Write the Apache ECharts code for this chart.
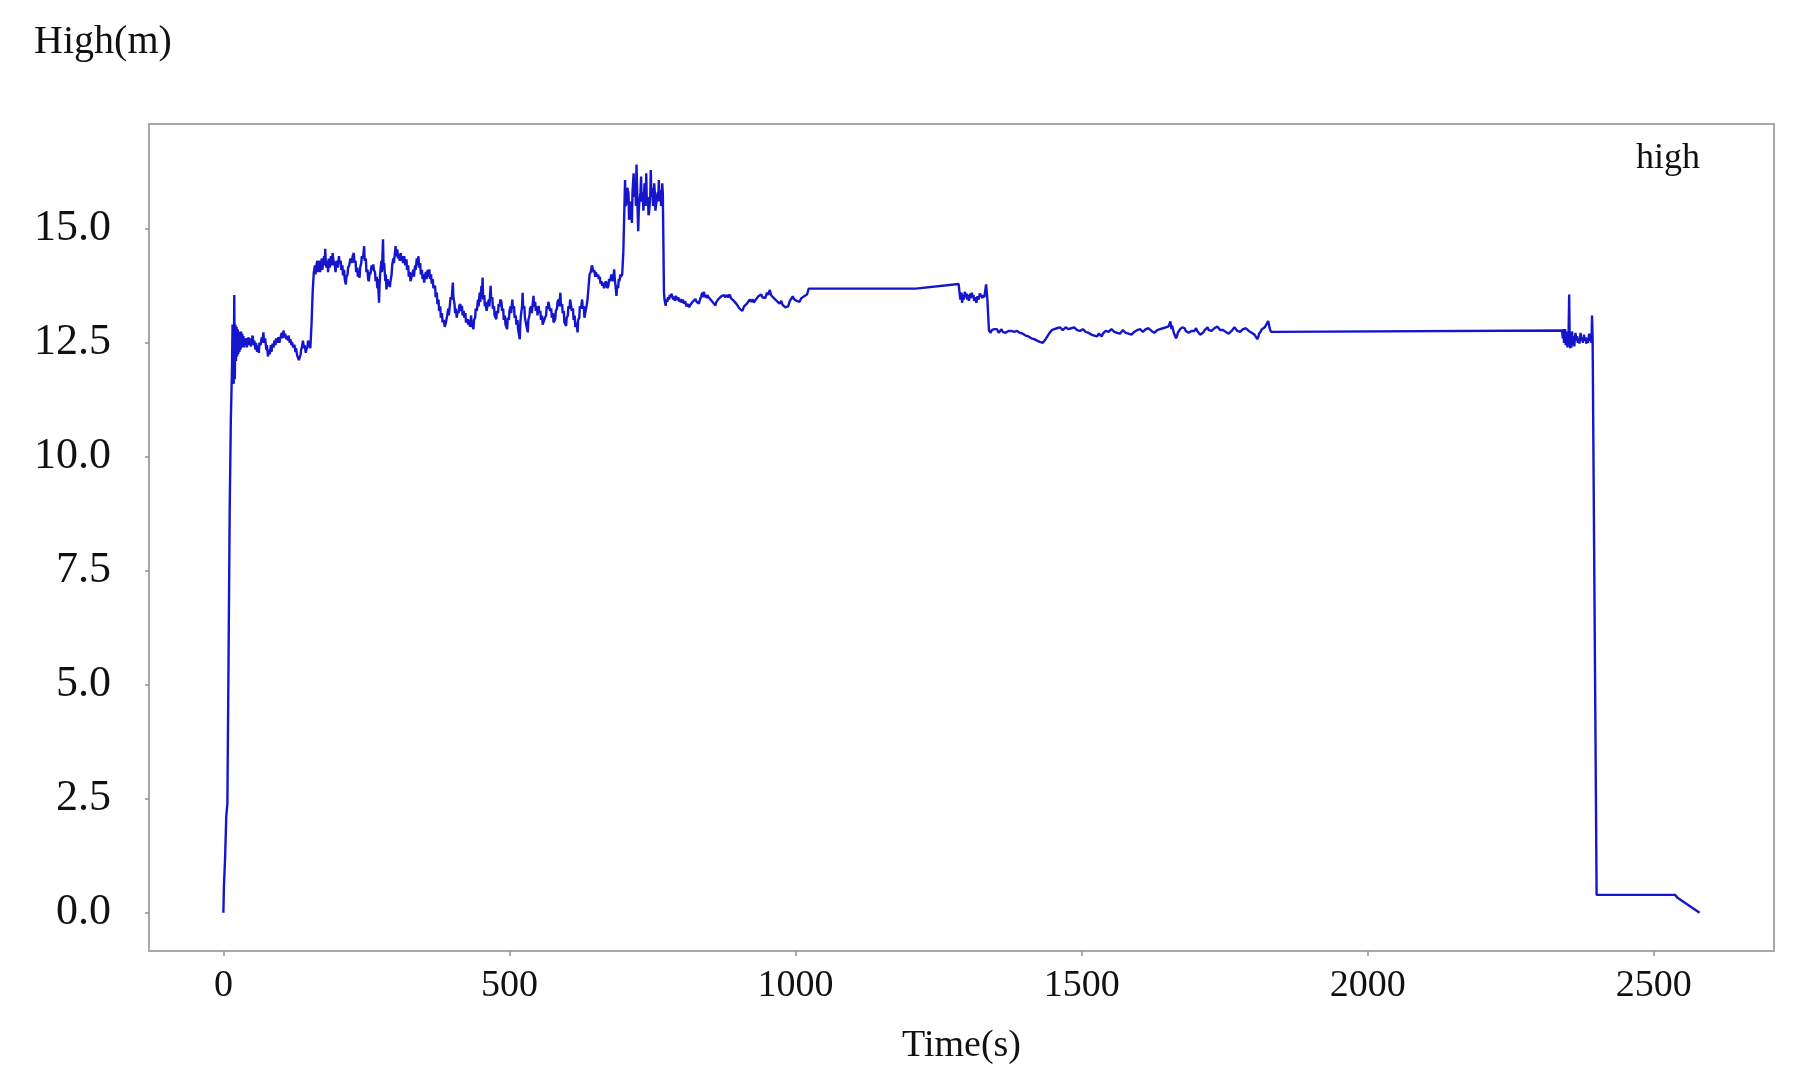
<!DOCTYPE html>
<html>
<head>
<meta charset="utf-8">
<title>High(m)</title>
<script src="https://cdn.jsdelivr.net/npm/echarts@6/dist/echarts.min.js"></script>
<style>
  html, body { margin: 0; padding: 0; background: #fff; }
  #main { width: 1797px; height: 1089px; }
</style>
</head>
<body>
<div id="main"></div>
<script>
// 高度-时间曲线，[时间 s, 高度 m]
var takeoff = [[0,0],[1,0.6],[3,1.2],[5,2.1],[7,2.4],[9,5.5],[11,8.8],[13,10.8],[15,11.9],[16,12.9],[17,12.3],[18,11.6],[19,13.55],[20,11.7],[21,12.9],[22,12.1]];

var hoverLow = [[23,12.85],[24,12.2],[25,12.8],[26,12.25],[27,12.75],[28,12.3],[29,12.7],[30,12.35],[31,12.75],[32,12.4],[33,12.7],[34,12.45],[35,12.65],[36,12.4],[37,12.6],[38,12.45],[40,12.6],[41,12.4],[42,12.52],[44,12.62],[45,12.45],[47,12.6],[48,12.42],[50,12.58],[51,12.66],[53,12.45],[54,12.55],[56,12.35],[57,12.5],[59,12.3],[60,12.44],[62,12.28],[63,12.5],[65,12.45],[67,12.62],[68,12.5],[70,12.73],[71,12.5],[73,12.6],[75,12.35],[76,12.45],[78,12.2],[79,12.35],[81,12.25],[83,12.45],[84,12.3],[86,12.48],[88,12.4],[89,12.55],[91,12.45],[92,12.6],[94,12.5],[96,12.62],[98,12.5],[99,12.58],[101,12.55],[102,12.72],[104,12.6],[105,12.77],[107,12.62],[108,12.7],[110,12.58],[111,12.65],[113,12.55],[114,12.66],[116,12.5],[117,12.58],[119,12.45],[120,12.52],[122,12.4],[124,12.46],[126,12.3],[127,12.38],[129,12.22],[130,12.25],[132,12.12],[133,12.15],[135,12.25],[136,12.35],[138,12.45],[139,12.55],[141,12.38],[142,12.45],[144,12.28],[145,12.35],[147,12.42],[148,12.55],[150,12.4],[151,12.52],[152,12.38]];

var hoverHigh = [[154,12.9],[156,13.6],[158,14.04],[160,14.2],[161,14.0],[162,14.15],[164,14.3],[165,14.05],[166,14.2],[168,14.3],[169,14.05],[170,14.15],[172,14.35],[173,14.1],[174,14.25],[176,14.4],[177,14.2],[178,14.56],[179,14.25],[180,14.15],[182,14.3],[183,14.05],[184,14.35],[186,14.15],[187,14.3],[188,14.4],[190,14.2],[191,14.47],[193,14.2],[194,14.3],[196,14.05],[197,14.2],[199,14.3],[200,14.15],[202,14.4],[203,14.25],[205,14.3],[206,14.1],[208,14.2],[209,13.98],[211,14.1],[212,13.9],[214,13.78],[215,13.95],[217,14.0],[218,14.15],[220,14.2],[222,14.35],[224,14.25],[226,14.4],[228,14.47],[229,14.25],[231,14.3],[232,14.05],[234,14.15],[235,13.95],[236,14.05],[238,13.93],[239,14.15],[241,14.25],[242,14.4],[244,14.35],[246,14.62],[247,14.3],[249,14.35],[250,14.05],[252,14.1],[253,13.9],[254,13.85],[256,14.05],[257,14.0],[259,14.2],[260,14.1],[262,14.22],[263,14.1],[265,14.05],[266,13.85],[268,13.95],[269,13.7],[270,13.9],[272,13.38],[273,13.8],[274,14.0],[276,14.3],[277,14.05],[279,14.77],[280,14.1],[281,14.25],[283,13.85],[284,14.0],[285,13.67],[287,13.9],[288,13.75],[290,13.85],[291,13.72],[292,13.85],[294,14.0],[295,14.2],[297,14.35],[298,14.25],[300,14.5],[301,14.62],[302,14.4],[304,14.55],[305,14.35],[307,14.45],[308,14.3],[310,14.47],[311,14.3],[313,14.4],[314,14.25],[316,14.4],[318,14.2],[320,14.33],[321,14.1],[323,14.2],[324,13.95],[326,14.05],[327,13.85],[329,13.82],[330,14.0],[332,14.1],[333,13.95],[335,14.2],[336,14.1],[338,14.35],[339,14.2],[341,14.4],[342,14.15],[344,14.25],[345,14.0],[347,14.1],[348,13.9],[349,14.0],[351,13.82],[352,13.95],[354,14.05],[355,13.9],[357,14.1],[358,13.95],[360,14.11],[361,13.9],[363,14.0],[364,13.8],[366,13.9],[367,13.7],[370,13.75],[371,13.5],[373,13.6],[374,13.35],[376,13.45],[377,13.2],[379,13.3],[380,13.05],[382,13.15],[383,12.95],[385,13.0],[387,12.85],[389,12.95]];

var hoverMid = [[391,13.09],[393,13.25],[394,13.1],[396,13.35],[397,13.5],[399,13.45],[401,13.82],[402,13.5],[404,13.35],[405,13.15],[406,13.25],[408,13.05],[409,13.2],[411,13.15],[412,13.3],[414,13.35],[415,13.2],[417,13.31],[418,13.1],[420,13.2],[421,13.05],[423,13.15],[424,12.95],[427,13.02],[428,12.9],[430,13.0],[431,12.85],[433,13.1],[434,12.9],[437,12.8],[438,13.0],[440,13.05],[441,13.25],[443,13.2],[445,13.45],[446,13.3],[448,13.6],[449,13.4],[451,13.75],[452,13.55],[453,13.93],[454,13.45],[456,13.55],[457,13.3],[458,13.4],[460,13.2],[461,13.16],[462,13.35],[464,13.45],[465,13.3],[467,13.75],[468,13.45],[470,13.5],[471,13.25],[473,13.3],[474,13.1],[477,13.02],[478,13.2],[480,13.15],[481,13.35],[483,13.3],[484,13.45],[486,13.4],[487,13.2],[489,13.25],[490,13.0],[492,13.1],[493,12.9],[496,12.8],[497,13.05],[499,13.0],[500,13.2],[502,13.3],[503,13.15],[505,13.45],[506,13.25],[508,13.3],[509,13.05],[511,13.1],[512,12.9],[514,13.0],[515,12.8],[518,12.58],[519,12.95],[520,13.1],[522,13.3],[523,13.6],[524,13.25],[526,13.3],[527,13.05],[529,13.05],[530,12.85],[532,12.73],[533,13.0],[535,13.1],[536,13.25],[538,13.3],[539,13.15],[542,13.53],[543,13.3],[545,13.4],[546,13.2],[548,13.3],[549,13.1],[551,13.31],[552,13.15],[554,13.2],[555,13.0],[557,13.1],[558,12.9],[561,12.87],[562,13.05],[564,13.1],[565,13.3],[567,13.25],[568,13.4],[570,13.38],[571,13.2],[573,13.25],[574,13.05],[576,13.15],[577,12.95],[580,13.02],[581,13.2],[583,13.25],[584,13.4],[586,13.45],[587,13.3],[589,13.6],[590,13.3],[592,13.35],[593,13.15],[595,13.2],[596,12.95],[599,12.87],[600,13.05],[602,13.1],[603,13.3],[605,13.25],[606,13.45],[608,13.45],[609,13.2],[611,13.25],[612,13.0],[614,13.1],[615,12.85],[617,12.95],[619,12.73],[620,13.0],[622,13.05],[623,13.3],[625,13.25],[627,13.45],[628,13.25],[630,13.3],[631,13.05],[633,13.02]];

var peak = [[636,13.4],[639,13.85],[640,14.0],[642,14.05],[644,14.2],[645,14.18],[647,14.05],[648,14.1],[650,13.95],[651,14.05],[653,13.95],[655,14.0],[656,13.9],[658,13.95],[659,13.8],[661,13.85],[662,13.75],[664,13.82],[665,13.7],[667,13.75],[668,13.85],[670,13.8],[671,13.7],[673,13.75],[674,13.9],[676,13.85],[678,14.0],[680,14.0],[681,13.85],[683,14.11],[684,13.9],[685,13.8],[687,13.53],[688,13.75],[690,13.7],[691,13.9],[692,13.85],[694,14.0],[695,13.95],[697,14.0],[699,14.5],[702,16.07],[703,15.5],[705,15.6],[706,15.9],[708,15.78],[709,15.2],[711,15.4],[712,15.6],[714,15.13],[715,15.8],[717,16.22],[718,15.7],[720,15.9],[721,15.5],[722,16.41],[724,15.4],[725,14.95],[726,15.4],[727,15.6],[729,15.8],[730,16.15],[731,15.6],[733,15.8],[734,15.4],[735,15.64],[736,16.0],[737,15.9],[738,15.5],[739,16.22],[740,15.6],[742,15.7],[743,15.3],[744,15.35],[746,15.7],[747,16.29],[748,15.7],[750,15.9],[751,15.5],[752,15.64],[753,16.0],[754,15.8],[755,15.4],[756,15.42],[758,15.7],[759,15.8],[760,15.6],[761,16.07],[762,15.6],[764,15.85],[765,15.5],[766,15.71],[767,16.0],[768,15.78]];

var hoverAfter = [[770,13.6],[771,13.45],[773,13.31],[774,13.45],[776,13.4],[777,13.5],[779,13.45],[780,13.55],[782,13.5],[783,13.58],[785,13.5],[786,13.45],[788,13.52],[789,13.42],[791,13.53],[793,13.44],[795,13.5],[797,13.4],[799,13.46],[801,13.38],[803,13.45],[805,13.36],[807,13.42],[809,13.3],[812,13.35],[814,13.28],[816,13.33],[818,13.3],[820,13.4],[822,13.36],[825,13.46],[827,13.4],[829,13.44],[831,13.36],[833,13.45],[835,13.52],[837,13.6],[838,13.5],[840,13.62],[841,13.5],[843,13.55],[845,13.48],[846,13.55],[848,13.5],[850,13.52],[852,13.44],[854,13.45],[856,13.38],[858,13.42],[860,13.32],[861,13.38],[863,13.4],[865,13.46],[867,13.42],[870,13.52],[872,13.48],[875,13.55],[877,13.5],[880,13.55],[882,13.5],[885,13.56],[887,13.48],[890,13.48],[892,13.42],[895,13.44],[897,13.35],[900,13.34],[902,13.25],[905,13.28],[907,13.2],[910,13.3],[912,13.26],[915,13.36],[917,13.32],[920,13.45],[922,13.4],[925,13.45],[927,13.38],[930,13.44],[932,13.42],[935,13.52],[937,13.48],[940,13.56],[942,13.5],[945,13.54],[947,13.48],[950,13.6],[952,13.55],[955,13.66],[957,13.55],[960,13.58],[962,13.48],[965,13.5],[967,13.42],[970,13.45],[972,13.36],[975,13.42],[977,13.34],[980,13.35],[982,13.28],[985,13.32],[987,13.3],[990,13.42],[992,13.4],[995,13.52],[997,13.46],[1000,13.5],[1002,13.42],[1005,13.46],[1007,13.4],[1010,13.48],[1012,13.45],[1015,13.52],[1017,13.48],[1020,13.56],[1023,13.69],[1210,13.69],[1285,13.79]];

var hoverSteady = [[1287,13.55],[1288,13.45],[1290,13.6],[1291,13.38],[1293,13.55],[1294,13.45],[1296,13.62],[1297,13.5],[1299,13.58],[1300,13.45],[1302,13.55],[1303,13.42],[1305,13.58],[1306,13.48],[1308,13.6],[1309,13.5],[1311,13.55],[1312,13.42],[1314,13.5],[1316,13.38],[1318,13.52],[1320,13.45],[1322,13.58],[1325,13.6],[1327,13.48],[1328,13.55],[1330,13.5],[1331,13.6],[1333,13.78],[1335,13.5],[1338,12.77]];

var hoverLowSteady = [[1341,12.72],[1343,12.78],[1345,12.74],[1347,12.8],[1350,12.76],[1352,12.8],[1355,12.72],[1357,12.76],[1360,12.8],[1362,12.74],[1365,12.78],[1367,12.72],[1370,12.7],[1372,12.76],[1375,12.8],[1377,12.76],[1380,12.8],[1382,12.74],[1385,12.72],[1387,12.76],[1390,12.78],[1392,12.72],[1395,12.74],[1397,12.7],[1400,12.7],[1402,12.66],[1405,12.68],[1407,12.64],[1410,12.66],[1412,12.6],[1415,12.62],[1417,12.58],[1420,12.6],[1422,12.55],[1425,12.56],[1427,12.52],[1430,12.54],[1432,12.5],[1434,12.49],[1436,12.56],[1438,12.6],[1440,12.64],[1442,12.68],[1444,12.72],[1446,12.74],[1448,12.78],[1450,12.76],[1452,12.8],[1455,12.78],[1457,12.82],[1460,12.8],[1462,12.84],[1465,12.82],[1467,12.78],[1470,12.8],[1472,12.84],[1475,12.86],[1477,12.8],[1480,12.78],[1482,12.82],[1485,12.8],[1487,12.84],[1490,12.82],[1492,12.78],[1495,12.8],[1497,12.76],[1500,12.75],[1502,12.8],[1505,12.78],[1507,12.74],[1510,12.76],[1512,12.72],[1515,12.72],[1517,12.68],[1520,12.72],[1522,12.66],[1525,12.68],[1527,12.64],[1530,12.7],[1532,12.66],[1535,12.64],[1537,12.7],[1540,12.72],[1542,12.76],[1545,12.78],[1547,12.74],[1550,12.75],[1552,12.8],[1555,12.78],[1557,12.74],[1560,12.76],[1562,12.72],[1565,12.74],[1567,12.7],[1570,12.74],[1572,12.78],[1575,12.76],[1577,12.72],[1580,12.74],[1582,12.7],[1585,12.72],[1587,12.68],[1590,12.7],[1592,12.74],[1595,12.74],[1597,12.78],[1600,12.76],[1602,12.8],[1605,12.78],[1607,12.74],[1610,12.76],[1612,12.8],[1615,12.78],[1617,12.82],[1620,12.8],[1622,12.76],[1625,12.76],[1627,12.72],[1630,12.74],[1632,12.78],[1635,12.76],[1637,12.8],[1640,12.78],[1642,12.82],[1645,12.8],[1647,12.84],[1650,12.82],[1652,12.86],[1655,12.97],[1657,12.8],[1658,12.88],[1660,12.78],[1661,12.72],[1663,12.68],[1665,12.6],[1667,12.66],[1668,12.72],[1670,12.76],[1672,12.8],[1674,12.76],[1676,12.84],[1678,12.8],[1680,12.82],[1682,12.76],[1685,12.78],[1687,12.72],[1690,12.7],[1692,12.76],[1695,12.8],[1697,12.76],[1700,12.82],[1702,12.76],[1705,12.74],[1707,12.68],[1710,12.66],[1712,12.72],[1715,12.78],[1717,12.82],[1720,12.84],[1722,12.78],[1725,12.8],[1727,12.76],[1730,12.78],[1732,12.82],[1735,12.8],[1737,12.86],[1740,12.84],[1742,12.78],[1745,12.82],[1747,12.78],[1750,12.8],[1752,12.74],[1755,12.76],[1757,12.7],[1760,12.7],[1762,12.76],[1765,12.78],[1767,12.84],[1770,12.82],[1772,12.76],[1775,12.8],[1777,12.74],[1780,12.76],[1782,12.8],[1785,12.78],[1787,12.82],[1790,12.8],[1792,12.76],[1795,12.78],[1797,12.72],[1800,12.74],[1802,12.68],[1804,12.64],[1807,12.58],[1809,12.64],[1810,12.7],[1813,12.75],[1815,12.8],[1817,12.78],[1820,12.84],[1823,12.86],[1826,12.98],[1828,12.86],[1829,12.8],[1831,12.74],[1833,12.77],[2339,12.77]];

var landing = [[2340,12.72],[2341,12.6],[2342,12.8],[2343,12.5],[2344,12.7],[2345,12.8],[2346,12.45],[2347,12.6],[2348,12.75],[2349,12.4],[2350,12.6],[2351,12.7],[2352,13.56],[2353,12.5],[2354,12.38],[2355,12.6],[2356,12.4],[2357,12.75],[2358,12.55],[2359,12.45],[2360,12.65],[2361,12.42],[2362,12.6],[2363,12.72],[2365,12.55],[2366,12.65],[2367,12.5],[2369,12.6],[2370,12.48],[2372,12.72],[2373,12.55],[2375,12.62],[2376,12.5],[2378,12.68],[2379,12.55],[2381,12.62],[2382,12.48],[2384,12.6],[2385,12.5],[2387,12.7],[2388,12.55],[2390,12.62],[2391,12.5],[2392,13.1],[2393,12.6],[2400,0.39],[2537,0.39],[2542,0.32],[2580,0.0]];

var xTicks = [0, 500, 1000, 1500, 2000, 2500];
var yTicks = [0, 2.5, 5, 7.5, 10, 12.5, 15];

var highData = [].concat(takeoff, hoverLow, hoverHigh, hoverMid, peak, hoverAfter, hoverSteady, hoverLowSteady, landing);

(function () {
  var myChart = echarts.init(document.getElementById("main"));
  var serif = "'Liberation Serif', 'DejaVu Serif', serif";

  var option = {
    animation: false,
    backgroundColor: "#fff",
    grid: {
      left: 149,
      right: 23,
      top: 124,
      bottom: 138,
      show: true,
      borderColor: "#a8a8a8",
      borderWidth: 2
    },
    legend: {
      data: ["high"],
      right: 92,
      top: 136,
      itemWidth: 0,
      itemHeight: 0,
      selectedMode: false,
      textStyle: { fontFamily: serif, fontSize: 36, color: "#111" }
    },
    xAxis: {
      type: "value",
      min: -130,
      max: 2710,
      name: "Time(s)",
      nameLocation: "middle",
      nameGap: 76,
      nameTextStyle: { fontFamily: serif, fontSize: 38, color: "#111" },
      axisLine: { show: false, onZero: false },
      axisTick: {
        show: true,
        customValues: xTicks,
        length: 5,
        lineStyle: { color: "#909090", width: 1.5 }
      },
      axisLabel: {
        customValues: xTicks,
        margin: 16,
        fontFamily: serif,
        fontSize: 38,
        color: "#111",
        formatter: function (v) { return String(v); }
      },
      splitLine: { show: false }
    },
    yAxis: {
      type: "value",
      min: -0.84,
      max: 17.3,
      name: "High(m)",
      nameLocation: "end",
      nameGap: 62,
      nameTextStyle: {
        fontFamily: serif,
        fontSize: 40,
        color: "#111",
        padding: [0, 92, 0, 0]
      },
      axisLine: { show: false, onZero: false },
      axisTick: {
        show: true,
        customValues: yTicks,
        length: 4,
        lineStyle: { color: "#909090", width: 1.5 }
      },
      axisLabel: {
        customValues: yTicks,
        margin: 38,
        fontFamily: serif,
        fontSize: 44,
        color: "#111",
        formatter: function (v) { return v.toFixed(1); }
      },
      splitLine: { show: false }
    },
    series: [
      {
        name: "high",
        type: "line",
        data: highData,
        showSymbol: false,
        sampling: null,
        lineStyle: { color: "#1515cc", width: 2.4 },
        itemStyle: { color: "#1515cc" }
      }
    ]
  };

  myChart.setOption(option);
  window.addEventListener("resize", function () {
    myChart.resize();
  });
})();
</script>
</body>
</html>
